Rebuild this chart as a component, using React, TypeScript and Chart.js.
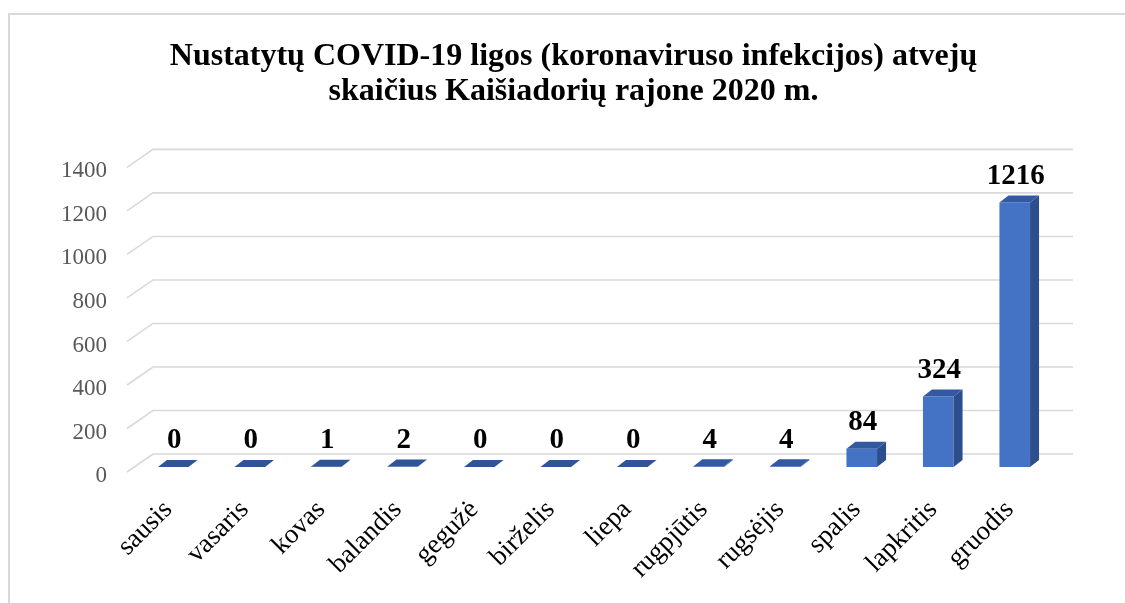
import React, { useEffect, useRef } from "react";
import { Chart, registerables } from "chart.js";

Chart.register(...registerables);

const months = [
  "sausis",
  "vasaris",
  "kovas",
  "balandis",
  "gegužė",
  "birželis",
  "liepa",
  "rugpjūtis",
  "rugsėjis",
  "spalis",
  "lapkritis",
  "gruodis",
];
const cases = [0, 0, 1, 2, 0, 0, 0, 4, 4, 84, 324, 1216];
const yTicks = [0, 200, 400, 600, 800, 1000, 1200, 1400];
const titleLines = [
  "Nustatytų COVID-19 ligos (koronaviruso infekcijos) atvejų",
  "skaičius Kaišiadorių rajone 2020 m.",
];

const FACE = "#4472C4";
const SIDE = "#2D4E8C";
const TOP = "#3459A3";
const GRID = "#D9D9D9";

// bar depth offset
const BDX = 9;
const BDY = -7;
// floor / wall geometry relative to the bar face plane
const FRONT_DX = -8;
const FRONT_DY = 5;
const BACK_DX = 18;
const BACK_DY = -13;

const threeD = {
  id: "threeD",
  afterLayout(chart: any) {
    // let the y tick labels use the space to the left of the axis box
    chart.scales.y.left = 0;
  },
  beforeDraw(chart: any) {
    const ctx = chart.ctx;
    ctx.save();
    ctx.strokeStyle = GRID;
    ctx.lineWidth = 2;
    ctx.beginPath();
    ctx.moveTo(9, chart.height);
    ctx.lineTo(9, 14);
    ctx.lineTo(chart.width, 14);
    ctx.stroke();
    ctx.restore();
  },
  beforeDatasetsDraw(chart: any) {
    const ctx = chart.ctx;
    const ys = chart.scales.y;
    const area = chart.chartArea;
    ctx.save();
    ctx.strokeStyle = GRID;
    ctx.lineWidth = 1.6;
    yTicks.forEach((v) => {
      const y = ys.getPixelForValue(v);
      ctx.beginPath();
      ctx.moveTo(area.left + FRONT_DX, y + FRONT_DY);
      ctx.lineTo(area.left + BACK_DX, y + BACK_DY);
      ctx.lineTo(area.right + 20, y + BACK_DY);
      ctx.stroke();
    });
    ctx.restore();
  },
  afterDatasetsDraw(chart: any) {
    const ctx = chart.ctx;
    const meta = chart.getDatasetMeta(0);
    ctx.save();
    meta.data.forEach((bar: any, i: number) => {
      const p = bar.getProps(["x", "y", "base", "width"], true);
      const xl = p.x - p.width / 2;
      const xr = p.x + p.width / 2;
      const yt = Math.min(p.y, p.base);
      const yb = Math.max(p.y, p.base);
      if (yb - yt > 0.5) {
        ctx.fillStyle = SIDE;
        ctx.beginPath();
        ctx.moveTo(xr, yb);
        ctx.lineTo(xr + BDX, yb + BDY);
        ctx.lineTo(xr + BDX, yt + BDY);
        ctx.lineTo(xr, yt);
        ctx.closePath();
        ctx.fill();
      }
      ctx.fillStyle = yb - yt > 0.5 ? TOP : "#2F5597";
      ctx.beginPath();
      ctx.moveTo(xl, yt);
      ctx.lineTo(xr, yt);
      ctx.lineTo(xr + BDX, yt + BDY);
      ctx.lineTo(xl + BDX, yt + BDY);
      ctx.closePath();
      ctx.fill();
      ctx.fillStyle = "#000";
      ctx.font = "bold 29px 'Liberation Serif'";
      ctx.textAlign = "center";
      ctx.textBaseline = "middle";
      ctx.fillText(String(cases[i]), p.x + 1, yt + BDY - 19);
    });
    ctx.restore();
  },
};

export default function App() {
  const ref = useRef<HTMLCanvasElement | null>(null);

  useEffect(() => {
    document.body.style.margin = "0";
    const canvas = ref.current;
    if (!canvas) return;
    const chart = new Chart(canvas, {
      type: "bar",
      data: {
        labels: months,
        datasets: [
          {
            data: cases,
            backgroundColor: FACE,
            borderWidth: 0,
            categoryPercentage: 1,
            barPercentage: 0.4,
          },
        ],
      },
      options: {
        animation: false,
        responsive: true,
        maintainAspectRatio: false,
        layout: { padding: { left: 94, right: 72, top: 0, bottom: 0 } },
        plugins: {
          legend: { display: false },
          tooltip: { enabled: false },
          title: {
            display: true,
            text: titleLines,
            color: "#000",
            font: { family: "'Liberation Serif'", size: 32, weight: "bold", lineHeight: 1.1 },
            padding: { top: 39, bottom: 53 },
          },
        },
        scales: {
          x: {
            grid: { display: false, drawTicks: false },
            border: { display: false },
            ticks: {
              autoSkip: false,
              minRotation: 45,
              maxRotation: 45,
              padding: 27,
              labelOffset: -5,
              color: "#000",
              font: { family: "'Liberation Serif'", size: 27 },
            },
            afterFit: (s: any) => {
              s.height = 136;
            },
          },
          y: {
            min: 0,
            max: 1400,
            grid: { display: false, drawTicks: false },
            border: { display: false },
            ticks: {
              stepSize: 200,
              padding: 28,
              labelOffset: 9,
              color: "#595959",
              font: { family: "'Liberation Serif'", size: 23 },
              callback: (v: any) => String(v),
            },
            afterFit: (s: any) => {
              s.width = 41;
            },
          },
        },
      },
      plugins: [threeD],
    });
    return () => chart.destroy();
  }, []);

  return (
    <div style={{ width: 1125, height: 603, position: "relative", background: "#fff" }}>
      <canvas ref={ref} />
    </div>
  );
}
